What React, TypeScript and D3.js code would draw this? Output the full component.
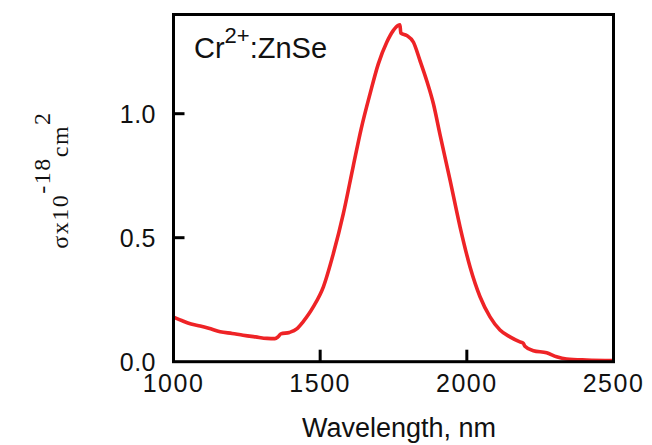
import React, { useEffect, useRef } from 'react'
import * as d3 from 'd3'

const wavelength = [
  1000, 1030, 1060, 1091, 1120, 1159, 1200, 1237, 1280, 1319, 1346, 1356, 1366, 1395, 1420, 1441,
  1460, 1477, 1511, 1545, 1579, 1613, 1640, 1670, 1698, 1727, 1749, 1766, 1772, 1775, 1795, 1818,
  1840, 1863, 1886, 1908, 1943, 1977, 2011, 2045, 2079, 2113, 2147, 2181, 2192, 2198, 2227, 2272,
  2306, 2340, 2408, 2500,
]
const sigma = [
  0.18, 0.165, 0.152, 0.144, 0.135, 0.121, 0.114, 0.107, 0.1, 0.094, 0.093, 0.1, 0.112, 0.118,
  0.132, 0.16, 0.19, 0.222, 0.302, 0.436, 0.597, 0.79, 0.94, 1.08, 1.2, 1.288, 1.335, 1.356,
  1.358, 1.325, 1.315, 1.288, 1.215, 1.134, 1.04, 0.919, 0.731, 0.543, 0.382, 0.262, 0.181, 0.128,
  0.1, 0.08, 0.075, 0.062, 0.044, 0.036, 0.02, 0.011, 0.007, 0.005,
]
const xTicks = [1000, 1500, 2000, 2500]
const yTicks = [0, 0.5, 1.0]

const width = 652
const height = 445
const margin = { left: 173.5, right: 38.5, top: 14.5, bottom: 83.3 }

const App = () => {
  const ref = useRef<SVGSVGElement>(null)

  useEffect(() => {
    const svg = d3.select(ref.current)
    svg.selectAll('*').remove()

    const x = d3.scaleLinear().domain([1000, 2500]).range([margin.left, width - margin.right])
    const y = d3.scaleLinear().domain([0, 1.4]).range([height - margin.bottom, margin.top])

    const sans = '"Liberation Sans", Arial, sans-serif'

    // curve
    const line = d3
      .line<number>()
      .x((_, i) => x(wavelength[i]))
      .y(d => y(d))
      .curve(d3.curveMonotoneX)

    svg
      .append('path')
      .datum(sigma)
      .attr('fill', 'none')
      .attr('stroke', '#ee2326')
      .attr('stroke-width', 3.6)
      .attr('stroke-linejoin', 'round')
      .attr('d', line)

    // frame
    svg
      .append('rect')
      .attr('x', x(1000))
      .attr('y', y(1.4))
      .attr('width', x(2500) - x(1000))
      .attr('height', y(0) - y(1.4))
      .attr('fill', 'none')
      .attr('stroke', '#000')
      .attr('stroke-width', 3)

    // x ticks (inward)
    svg
      .append('g')
      .selectAll('line')
      .data(xTicks.slice(1, -1))
      .join('line')
      .attr('x1', d => x(d))
      .attr('x2', d => x(d))
      .attr('y1', y(0))
      .attr('y2', y(0) - 12)
      .attr('stroke', '#000')
      .attr('stroke-width', 3)

    svg
      .append('g')
      .selectAll('text')
      .data(xTicks)
      .join('text')
      .attr('x', d => x(d))
      .attr('y', 392)
      .attr('text-anchor', 'middle')
      .attr('font-family', sans)
      .attr('font-size', 25)
      .attr('letter-spacing', 1.5)
      .attr('fill', '#111')
      .text(d => d)

    // y ticks (inward)
    svg
      .append('g')
      .selectAll('line')
      .data(yTicks.slice(1))
      .join('line')
      .attr('x1', x(1000))
      .attr('x2', x(1000) + 11)
      .attr('y1', d => y(d))
      .attr('y2', d => y(d))
      .attr('stroke', '#000')
      .attr('stroke-width', 3)

    svg
      .append('g')
      .selectAll('text')
      .data(yTicks)
      .join('text')
      .attr('x', 156)
      .attr('y', d => y(d) + 9)
      .attr('text-anchor', 'end')
      .attr('font-family', sans)
      .attr('font-size', 25)
      .attr('letter-spacing', 0.5)
      .attr('fill', '#111')
      .text(d => d.toFixed(1))

    // x axis title
    svg
      .append('text')
      .attr('x', 399)
      .attr('y', 437)
      .attr('text-anchor', 'middle')
      .attr('font-family', sans)
      .attr('font-size', 27)
      .attr('fill', '#111')
      .text('Wavelength, nm')

    // y axis title
    const yt = svg
      .append('text')
      .attr('transform', 'translate(68,180) rotate(-90)')
      .attr('text-anchor', 'middle')
      .attr('font-family', '"Liberation Serif", "Times New Roman", serif')
      .attr('font-size', 24)
      .attr('letter-spacing', 1.5)
      .attr('fill', '#111')
    yt.append('tspan').text('σx10')
    yt.append('tspan').attr('dy', -18).text('-18')
    yt.append('tspan').attr('dy', 18).text('cm')
    yt.append('tspan').attr('dy', -18).text('2')

    // label
    const lab = svg
      .append('text')
      .attr('x', 194)
      .attr('y', 58)
      .attr('font-family', sans)
      .attr('font-size', 29)
      .attr('fill', '#111')
    lab.append('tspan').text('Cr')
    lab.append('tspan').attr('dy', -15).attr('font-size', 22).text('2+')
    lab.append('tspan').attr('dy', 15).text(':ZnSe')
  }, [])

  return (
    <svg
      ref={ref}
      width={width}
      height={height}
      style={{ position: 'absolute', left: 0, top: 0, background: '#fff' }}
    />
  )
}

export default App
